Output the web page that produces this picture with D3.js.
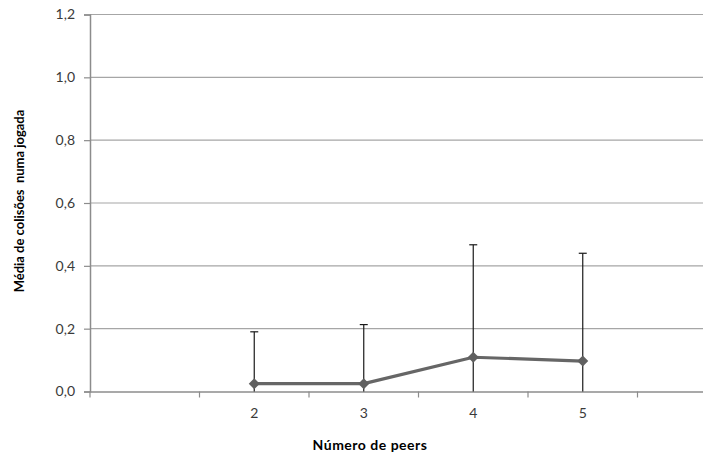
<!DOCTYPE html>
<html>
<head>
<meta charset="utf-8">
<script src="https://cdn.jsdelivr.net/npm/d3@7"></script>
<style>
    body { margin: 0; background: #fff; }
    svg { display: block; }
</style>
</head>
<body>
<div id="chart"></div>
<script>
// Données
const categories = ['1', '2', '3', '4', '5', '6'];
const tickLabels = ['', '2', '3', '4', '5', ''];
const peers = ['2', '3', '4', '5'];
const means = [0.025, 0.025, 0.109, 0.097];
const errors = [0.165, 0.188, 0.358, 0.343];
const yTicks = [0, 0.2, 0.4, 0.6, 0.8, 1.0, 1.2];

const width = 703;
const height = 459;
const plot = { left: 90, top: 14.5, bottom: 391.5, right: 747 };

const svg = d3.select('#chart')
    .append('svg')
    .attr('width', width)
    .attr('height', height);

const font = 'Lato, "Open Sans", sans-serif';

const xScale = d3.scaleBand()
    .domain(categories)
    .range([plot.left, plot.right]);

const yScale = d3.scaleLinear()
    .domain([0, 1.2])
    .range([plot.bottom, plot.top]);

// Grille horizontale
svg.append('g')
    .selectAll('line')
    .data(yTicks.slice(1))
    .enter()
    .append('line')
    .attr('x1', plot.left)
    .attr('x2', plot.right)
    .attr('y1', d => yScale(d))
    .attr('y2', d => yScale(d))
    .attr('stroke', '#a6a6a6')
    .attr('stroke-width', 1.2);

// Axe Y
const yAxis = svg.append('g')
    .attr('transform', `translate(${plot.left},0)`)
    .call(d3.axisLeft(yScale)
        .tickValues(yTicks)
        .tickSize(6)
        .tickPadding(9)
        .tickFormat(d => d3.format('.1f')(d).replace('.', ',')));

// Axe X (graduations entre les catégories)
const xAxis = svg.append('g')
    .attr('transform', `translate(0,${plot.bottom})`)
    .call(d3.axisBottom(xScale)
        .tickSize(0)
        .tickPadding(17)
        .tickFormat((d, i) => tickLabels[i]));

xAxis.selectAll('.tick-sep')
    .data(categories)
    .enter()
    .append('line')
    .attr('class', 'tick-sep')
    .attr('x1', d => xScale(d))
    .attr('x2', d => xScale(d))
    .attr('y1', 0)
    .attr('y2', 6);

[yAxis, xAxis].forEach(ax => {
    ax.select('.domain').attr('stroke', '#8c8c8c').attr('stroke-width', 1.5);
    ax.selectAll('line').attr('stroke', '#8c8c8c').attr('stroke-width', 1.2);
    ax.selectAll('text')
        .style('font-family', font)
        .style('font-size', '14px')
        .style('fill', '#3a3a3a');
});

const cx = d => xScale(d) + xScale.bandwidth() / 2;
const series = peers.map((p, i) => ({ p, m: means[i], e: errors[i] }));

// Barres d'erreur
const err = svg.append('g');
err.selectAll('.err-line')
    .data(series)
    .enter()
    .append('line')
    .attr('x1', d => cx(d.p))
    .attr('x2', d => cx(d.p))
    .attr('y1', d => yScale(Math.max(0, d.m - d.e)))
    .attr('y2', d => yScale(d.m + d.e))
    .attr('stroke', '#1a1a1a')
    .attr('stroke-width', 1.2);

err.selectAll('.err-cap')
    .data(series)
    .enter()
    .append('line')
    .attr('x1', d => cx(d.p) - 4)
    .attr('x2', d => cx(d.p) + 4)
    .attr('y1', d => yScale(d.m + d.e))
    .attr('y2', d => yScale(d.m + d.e))
    .attr('stroke', '#1a1a1a')
    .attr('stroke-width', 1.2);

// Ligne
const line = d3.line()
    .x(d => cx(d.p))
    .y(d => yScale(d.m));

svg.append('path')
    .datum(series)
    .attr('d', line)
    .attr('fill', 'none')
    .attr('stroke', '#666666')
    .attr('stroke-width', 3.2)
    .attr('stroke-linejoin', 'round');

// Marqueurs en losange
svg.selectAll('.marker')
    .data(series)
    .enter()
    .append('path')
    .attr('class', 'marker')
    .attr('transform', d => `translate(${cx(d.p)},${yScale(d.m)})`)
    .attr('d', 'M0,-5.5L5.5,0L0,5.5L-5.5,0Z')
    .attr('fill', '#606060');

// Titres des axes
svg.append('text')
    .attr('x', 370)
    .attr('y', 450)
    .style('text-anchor', 'middle')
    .style('font-family', font)
    .style('font-weight', 'bold')
    .style('font-size', '14px')
    .style('letter-spacing', '0.5px')
    .style('fill', '#000')
    .text('Número de peers');

svg.append('text')
    .attr('transform', 'translate(24,201) rotate(-90)')
    .style('text-anchor', 'middle')
    .style('font-family', font)
    .style('font-weight', 'bold')
    .style('font-size', '13px')
    .style('fill', '#000')
    .style('white-space', 'pre')
    .text('Média de colisões  numa jogada');
</script>
</body>
</html>
